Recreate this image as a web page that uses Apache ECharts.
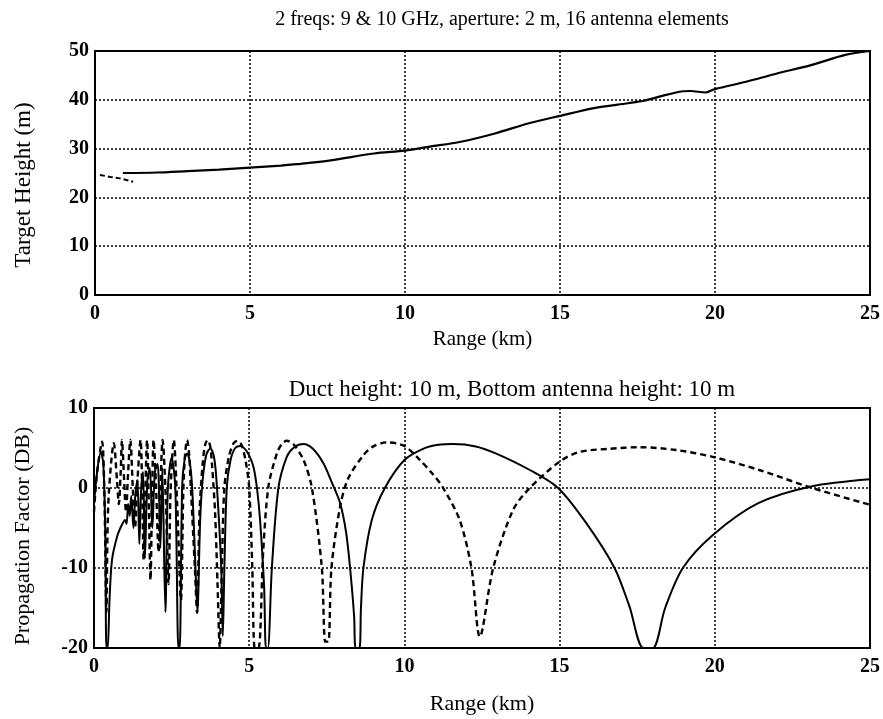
<!DOCTYPE html>
<html>
<head>
<meta charset="utf-8">
<script src="https://cdn.jsdelivr.net/npm/echarts@6/dist/echarts.min.js"></script>
<style>
  html, body { margin: 0; padding: 0; background: #fff; }
  #chart { width: 883px; height: 719px; }
</style>
</head>
<body>
<div id="chart"></div>
<script>
var xTicks = [0, 5, 10, 15, 20, 25];

// top plot: target height (m) vs range (km)
var heightMain = [
  [0.9, 25.0], [2, 25.1], [3, 25.4], [4, 25.7], [5, 26.1], [6, 26.5], [6.5, 26.8],
  [7.6, 27.6], [9, 29.0], [10, 29.6], [10.8, 30.4], [11.8, 31.4], [12.9, 33.1],
  [14, 35.2], [15, 36.7], [16.1, 38.3], [17.2, 39.3], [17.7, 39.8], [18.3, 40.8],
  [18.9, 41.7], [19.2, 41.8], [19.7, 41.5], [20, 42.2], [21, 43.7], [22, 45.4],
  [23.1, 47.1], [24.2, 49.2], [25, 50]
];
var heightStart = [[0.16, 24.6], [0.5, 24.2], [0.8, 23.9], [1.23, 23.2]];

// bottom plot: propagation factor (dB) vs range (km)
var propSolid = [
  [0.0, -2], [0.1, 2], [0.22, 4.5], [0.3, 3], [0.36, -5], [0.4, -20], [0.44, -20],
  [0.5, -14], [0.58, -9], [0.75, -6], [0.9, -4.6], [1.0, -4], [1.05, -4.5], [1.1, -2],
  [1.15, -3.5], [1.2, -1], [1.27, -5], [1.33, -1], [1.4, 1], [1.46, -7], [1.52, 0],
  [1.58, 2], [1.64, -8.8], [1.72, 1], [1.8, 2.5], [1.88, -5], [1.96, 2], [2.05, 3],
  [2.14, -7.5], [2.2, 2.5], [2.3, -15.5], [2.38, 0], [2.5, 3.8], [2.62, 0],
  [2.72, -20], [2.76, -20], [2.84, 0.2], [2.92, 3.6], [3.0, 4.3], [3.08, 3.4],
  [3.16, 0.2], [3.26, -9], [3.33, -15.5], [3.42, -4], [3.5, 1], [3.62, 4.2],
  [3.75, 4.95], [3.87, 3.8], [3.96, 0.2], [4.1, -10], [4.15, -18.5], [4.2, -10],
  [4.28, 0.2], [4.4, 3.5], [4.55, 5.0], [4.71, 5.25], [4.88, 4.8], [5.02, 3.9],
  [5.14, 2.6], [5.25, 0], [5.35, -4], [5.48, -12.3], [5.54, -20], [5.6, -20],
  [5.73, -10], [5.94, 0], [6.21, 3.9], [6.45, 5.1], [6.75, 5.5], [7.05, 4.9],
  [7.39, 3.1], [7.65, 0.8], [7.93, -1.9], [8.12, -5.5], [8.25, -10], [8.38, -16],
  [8.43, -20], [8.55, -20], [8.6, -15], [8.68, -10], [8.95, -4], [9.37, 0],
  [10.0, 3.5], [10.6, 4.9], [11.1, 5.4], [11.57, 5.5], [12.3, 5.2], [12.96, 4.3],
  [14.04, 2.25], [14.95, 0], [15.86, -4.4], [16.77, -10], [17.25, -14.8], [17.7, -20],
  [18.0, -20], [18.4, -15], [18.97, -10], [19.93, -5.9], [21.4, -1.9], [23.1, 0.2],
  [25, 1.1]
];
var propDashed = [
  [0.0, -3], [0.1, 2], [0.26, 5.8], [0.34, -2], [0.4, -15.5], [0.46, -2], [0.64, 5.6],
  [0.74, 1], [0.8, -2], [0.86, 2], [0.9, 6.0], [0.97, 1], [1.03, -3], [1.1, 2],
  [1.17, 6.0], [1.25, 0], [1.32, -5], [1.4, 1], [1.5, 6.0], [1.56, -2], [1.6, -9],
  [1.65, -1], [1.71, 6.0], [1.77, -3], [1.82, -11.5], [1.87, -1], [1.92, 6.0],
  [2.0, 0], [2.08, -8], [2.14, 0], [2.21, 6.0], [2.32, -2], [2.4, -12], [2.47, 0],
  [2.57, 6.0], [2.68, -2], [2.8, -14], [2.88, 0], [2.94, 4.5], [3.0, 6.0], [3.06, 4.5],
  [3.12, 0], [3.25, -10], [3.32, -15.6], [3.4, -3], [3.5, 3], [3.58, 5.4], [3.66, 6.0],
  [3.74, 5.3], [3.8, 3], [3.9, -3], [3.98, -12], [4.05, -20], [4.12, -10], [4.2, 0],
  [4.35, 4], [4.5, 5.6], [4.62, 5.9], [4.75, 5.4], [4.88, 3.5], [5.0, 0], [5.1, -10],
  [5.18, -20], [5.3, -20], [5.45, -8], [5.62, 0.2], [5.89, 4.3], [6.05, 5.5],
  [6.21, 5.9], [6.42, 5.5], [6.75, 3.5], [7.02, 0], [7.34, -10], [7.45, -19.2],
  [7.55, -19.2], [7.65, -10], [7.93, -2.3], [8.19, 1.2], [8.68, 4.1], [9.0, 5.2],
  [9.43, 5.7], [10.0, 5.25], [10.5, 3.5], [10.9, 1.8], [11.25, 0], [11.78, -4],
  [12.16, -10], [12.43, -18.6], [12.86, -10], [13.5, -2.75], [14.04, 0], [15.0, 3.3],
  [15.64, 4.5], [16.6, 4.9], [17.57, 5.1], [18.75, 4.75], [19.93, 3.9], [21.43, 2.25],
  [23.14, 0], [25, -2.1]
];

var serif = "'Liberation Serif', 'DejaVu Serif', serif";
var chart = echarts.init(document.getElementById('chart'));

var gridLine = { lineStyle: { color: '#000', type: [2, 2], width: 1.5 } };

function xAx(gridIndex, nameGap, nameSize) {
  return {
    type: 'value', gridIndex: gridIndex, min: xTicks[0], max: xTicks[xTicks.length - 1], interval: 5,
    name: 'Range (km)', nameLocation: 'middle', nameGap: nameGap,
    nameTextStyle: { fontFamily: serif, fontSize: nameSize, color: '#000' },
    axisLine: { onZero: false, lineStyle: { color: '#000', width: 2 } },
    axisTick: { show: false },
    axisLabel: { fontFamily: serif, fontSize: 20, fontWeight: 'bold', color: '#000', margin: 9 },
    splitLine: gridLine
  };
}
function yAx(gridIndex, min, max) {
  return {
    type: 'value', gridIndex: gridIndex, min: min, max: max, interval: 10,
    axisLine: { onZero: false, lineStyle: { color: '#000', width: 2 } },
    axisTick: { show: false },
    axisLabel: { fontFamily: serif, fontSize: 20, fontWeight: 'bold', color: '#000', margin: 6 },
    splitLine: gridLine
  };
}
function yName(text, x, y, size) {
  return {
    type: 'text', x: x, y: y, rotation: Math.PI / 2,
    style: { text: text, fontFamily: serif, fontSize: size, fill: '#000',
      textAlign: 'center', textVerticalAlign: 'middle' }
  };
}

var option = {
  animation: false,
  backgroundColor: '#fff',
  title: [
    { text: '2 freqs: 9 & 10 GHz, aperture: 2 m, 16 antenna elements', left: 497, top: 5, textAlign: 'center',
      textStyle: { fontFamily: serif, fontSize: 20, fontWeight: 'normal', color: '#000' } },
    { text: 'Duct height: 10 m, Bottom antenna height: 10 m', left: 507, top: 373, textAlign: 'center',
      textStyle: { fontFamily: serif, fontSize: 23, fontWeight: 'normal', color: '#000' } }
  ],
  graphic: [
    yName('Target Height (m)', 24, 185, 23),
    yName('Propagation Factor (DB)', 23, 536, 22)
  ],
  grid: [
    { left: 95, right: 11, top: 51, height: 244, show: true, borderColor: '#000', borderWidth: 2 },
    { left: 94, right: 12, top: 408, height: 240, show: true, borderColor: '#000', borderWidth: 2 }
  ],
  xAxis: [xAx(0, 34, 21), xAx(1, 45, 22)],
  yAxis: [yAx(0, 0, 50), yAx(1, -20, 10)],
  series: [
    { type: 'line', xAxisIndex: 0, yAxisIndex: 0, data: heightMain, showSymbol: false, smooth: 0.3,
      lineStyle: { color: '#000', width: 2.2 } },
    { type: 'line', xAxisIndex: 0, yAxisIndex: 0, data: heightStart, showSymbol: false,
      lineStyle: { color: '#000', width: 2, type: [5, 3] } },
    { type: 'line', xAxisIndex: 1, yAxisIndex: 1, data: propSolid, showSymbol: false, smooth: 0.3,
      lineStyle: { color: '#000', width: 2 } },
    { type: 'line', xAxisIndex: 1, yAxisIndex: 1, data: propDashed, showSymbol: false, smooth: 0.3,
      lineStyle: { color: '#000', width: 2.4, type: [6, 4] } }
  ]
};
chart.setOption(option);
</script>
</body>
</html>
